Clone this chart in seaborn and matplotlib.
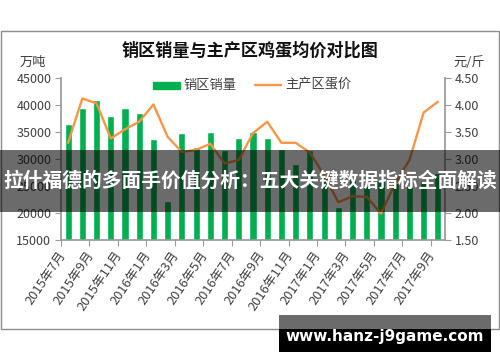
import matplotlib
matplotlib.use('Agg')
import matplotlib.pyplot as plt
import seaborn as sns
import numpy as np
import pandas as pd
from matplotlib.patches import Rectangle
from matplotlib.lines import Line2D

months = ['2015年7月', '2015年8月', '2015年9月', '2015年10月', '2015年11月', '2015年12月',
          '2016年1月', '2016年2月', '2016年3月', '2016年4月', '2016年5月', '2016年6月',
          '2016年7月', '2016年8月', '2016年9月', '2016年10月', '2016年11月', '2016年12月',
          '2017年1月', '2017年2月', '2017年3月', '2017年4月', '2017年5月', '2017年6月',
          '2017年7月', '2017年8月', '2017年9月']
sales = [36400, 39500, 41000, 38000, 39500, 38500, 33700, 22300, 34900,
         32300, 35000, 31600, 33800, 35000, 33800, 31800, 29000, 31700,
         27000, 21100, 26500, 25000, 26000, 25500, 25000, 26000, 27500]
price = [3.30, 4.12, 4.03, 3.38, 3.55, 3.69, 4.01, 3.41, 3.13,
         3.17, 3.28, 2.92, 2.98, 3.48, 3.69, 3.30, 3.30, 3.12,
         2.70, 2.20, 2.31, 2.30, 1.99, 2.55, 2.98, 3.86, 4.06]
left_ticks = [15000, 20000, 25000, 30000, 35000, 40000, 45000]
right_ticks = [1.50, 2.00, 2.50, 3.00, 3.50, 4.00, 4.50]

title = '销区销量与主产区鸡蛋均价对比图'
banner = '拉什福德的多面手价值分析：五大关键数据指标全面解读'
site = 'www.hanz-j9game.com'

GREEN = '#00B050'
ORANGE = '#F79646'
AXC = '#9a9a9a'
TXT = '#404040'

sns.set_theme(style='white')
plt.rcParams['font.family'] = ['Noto Sans CJK SC', 'DejaVu Sans']
plt.rcParams['axes.unicode_minus'] = False

W, H = 500, 362
fig = plt.figure(figsize=(W / 100, H / 100), dpi=100)

def fx(px):
    return px / W

def fy(py):
    return 1 - py / H

ax = fig.add_axes([fx(61), fy(240), fx(445) - fx(61), fy(78) - fy(240)])
df = pd.DataFrame({'month': months, 'sales': sales, 'price': price, 'idx': np.arange(len(months))})
sns.barplot(data=df, x='month', y='sales', color=GREEN, saturation=1, width=0.5, ax=ax)
ax2 = ax.twinx()
sns.lineplot(data=df, x='idx', y='price', color=ORANGE, lw=1.7, ax=ax2)

n = len(months)
for a in (ax, ax2):
    a.set_xlim(-0.5, n - 0.5)
    a.set_xlabel('')
    a.set_ylabel('')
    a.spines['top'].set_visible(False)

ax.set_ylim(15000, 45000)
ax.set_yticks(left_ticks)
ax.set_yticklabels([str(v) for v in left_ticks], fontsize=9, color=TXT)
ax2.set_ylim(1.5, 4.5)
ax2.set_yticks(right_ticks)
ax2.set_yticklabels(['%.2f' % v for v in right_ticks], fontsize=9, color=TXT)

ax.set_xticks(range(0, n, 2))
ax.set_xticklabels(months[::2], rotation=56, ha='right', fontsize=9.3, color=TXT)
ax.set_xticks(np.arange(-0.5, n, 2), minor=True)
ax.tick_params(axis='x', which='major', length=0, pad=6)
ax.tick_params(axis='x', which='minor', length=4, color=AXC, width=0.8, direction='out', bottom=True)
ax.tick_params(axis='y', length=4, color=AXC, width=0.8, direction='out', left=True, pad=3)
ax2.tick_params(axis='y', length=4, color=AXC, width=0.8, direction='out', right=True, pad=3)

ax.spines['right'].set_visible(False)
ax.spines['left'].set_color(AXC)
ax.spines['bottom'].set_color(AXC)
ax2.spines['left'].set_visible(False)
ax2.spines['bottom'].set_visible(False)
ax2.spines['right'].set_color(AXC)
for a in (ax, ax2):
    a.grid(False)
    a.set_facecolor('none')

# outer frame
fig.patches.append(Rectangle((fx(1), fy(329)), fx(498), fy(31) - fy(329), transform=fig.transFigure,
                             fill=False, edgecolor='#8c8c8c', lw=1.0, zorder=2))

# title & units
fig.text(0.5, fy(51), title, ha='center', va='center', fontsize=12.3, fontweight='bold', color='#111111')
fig.text(fx(33), fy(62), '万吨', ha='center', va='center', fontsize=9.5, color=TXT)
fig.text(fx(469), fy(62), '元/斤', ha='center', va='center', fontsize=9.5, color=TXT)

# legend
fig.patches.append(Rectangle((fx(153), fy(88.5)), fx(27), fy(81.5) - fy(88.5), transform=fig.transFigure,
                             color=GREEN, zorder=3))
fig.text(fx(183), fy(85), '销区销量', ha='left', va='center', fontsize=9.5, color=TXT)
fig.lines.append(Line2D([fx(255), fx(281)], [fy(85), fy(85)], transform=fig.transFigure,
                        color=ORANGE, lw=1.7, zorder=3))
fig.text(fx(285), fy(85), '主产区蛋价', ha='left', va='center', fontsize=9.5, color=TXT)

# banner overlay
fig.patches.append(Rectangle((0, fy(212)), 1, fy(150) - fy(212), transform=fig.transFigure,
                             color='black', alpha=0.58, lw=0, zorder=10))
fig.text(0.5, fy(181), banner, ha='center', va='center', fontsize=14.2, fontweight='bold',
         color='white', zorder=11)

# site watermark
fig.patches.append(Rectangle((fx(279), fy(352)), fx(212), fy(315) - fy(352), transform=fig.transFigure,
                             color='black', lw=0, zorder=10))
fig.patches.append(Rectangle((fx(279), fy(329)), fx(212), fy(315) - fy(329), transform=fig.transFigure,
                             color='#6b6b6b', lw=0, zorder=10))
fig.text(fx(385), fy(337), site, ha='center', va='center', fontsize=11, fontweight='bold',
         color='white', family=['DejaVu Sans'], zorder=11)

fig.savefig('out.png', dpi=100)
